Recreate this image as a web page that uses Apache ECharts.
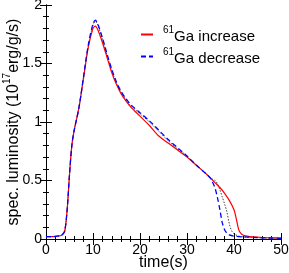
<!DOCTYPE html>
<html><head><meta charset="utf-8">
<script src="https://cdn.jsdelivr.net/npm/echarts@6/dist/echarts.min.js"></script>
<style>html,body{margin:0;padding:0;background:#fff}#c{width:289px;height:273px}</style>
</head><body><div id="c"></div>
<script>
// time (s) and luminosity values (10^17 erg/g/s)
const redT = [0,1,2,3,3.5,4,4.5,5,5.5,6,7,8,9,10,10.5,11,12,13,14,15,16,17,18,20,22,24,26,28,30,32,34,35,36,37,38,39,40,40.5,41,41.5,42,43,44,46,48,50];
const redV = [0.02,0.02,0.022,0.028,0.038,0.07,0.25,0.55,0.8,0.93,1.12,1.38,1.64,1.8,1.82,1.79,1.68,1.55,1.42,1.32,1.24,1.18,1.13,1.05,0.97,0.88,0.82,0.76,0.7,0.63,0.56,0.52,0.48,0.44,0.39,0.33,0.25,0.17,0.08,0.045,0.032,0.022,0.018,0.013,0.01,0.008];
const blueT = [0,1,2,3,3.5,4,4.5,5,5.5,6,7,8,9,10,10.5,11,12,13,14,15,16,17,18,20,22,24,26,28,30,32,34,35,35.5,36,36.5,37,37.5,38,38.5,39,40,42,44,46,48,50];
const blueV = [0.02,0.02,0.022,0.028,0.038,0.07,0.25,0.55,0.8,0.93,1.12,1.39,1.66,1.84,1.87,1.84,1.72,1.58,1.45,1.34,1.26,1.2,1.15,1.08,1.01,0.93,0.85,0.78,0.71,0.63,0.56,0.52,0.48,0.43,0.35,0.25,0.14,0.08,0.05,0.035,0.025,0.018,0.014,0.01,0.008,0.006];
const grayT = [0,1,2,3,3.5,4,4.5,5,5.5,6,7,8,9,10,10.5,11,12,13,14,15,16,17,18,20,22,24,26,28,30,32,34,35,36,36.5,37,37.5,38,38.5,39,39.5,40,41,42,44,46,48,50];
const grayV = [0.02,0.02,0.022,0.028,0.038,0.07,0.25,0.55,0.8,0.93,1.12,1.39,1.65,1.83,1.86,1.83,1.71,1.57,1.44,1.33,1.25,1.19,1.14,1.07,1.0,0.92,0.84,0.77,0.71,0.63,0.56,0.52,0.5,0.47,0.42,0.36,0.3,0.23,0.13,0.07,0.045,0.025,0.018,0.013,0.01,0.008,0.006];
const xTicks = [0,10,20,30,40,50];
const yTicks = [0,0.5,1,1.5,2];
const seriesNames = ['61Ga increase','61Ga decrease'];

const zip = (t,v) => t.map((x,i)=>[x,v[i]]);
const font = 'Liberation Sans, Arial, sans-serif';
const chart = echarts.init(document.getElementById('c'));
const axCommon = {
  axisLine:{show:true,lineStyle:{color:'#000',width:1}},
  axisTick:{show:true,inside:true,length:6,lineStyle:{color:'#000'}},
  minorTick:{show:true,splitNumber:5,length:3,lineStyle:{color:'#000'}},
  splitLine:{show:false}
};
const richSup = {
  t:{fontSize:16,fontFamily:font,color:'#000',lineHeight:20,verticalAlign:'bottom'},
  sup:{fontSize:10,fontFamily:font,color:'#000',lineHeight:10,verticalAlign:'top'}
};
const richLegend = {
  t:{fontSize:15,fontFamily:font,color:'#000',lineHeight:19,verticalAlign:'bottom'},
  sup:{fontSize:10,fontFamily:font,color:'#000',lineHeight:10,verticalAlign:'top',padding:[0,0,0,5]}
};
chart.setOption({
  animation:false,
  backgroundColor:'#fff',
  grid:{left:46,right:8,top:5,bottom:34,containLabel:false,outerBoundsMode:'none'},
  legend:{
    data:seriesNames, orient:'vertical', left:135, top:20, itemWidth:12, itemHeight:10, itemGap:3,
    itemStyle:{color:'transparent',borderWidth:0,opacity:0},
    formatter: n => '{sup|61}{t|' + n.slice(2) + '}',
    textStyle:{fontFamily:font, color:'#000', rich:richLegend}
  },
  xAxis:[
    Object.assign({type:'value',min:0,max:50,interval:10,position:'bottom',
      name:'time(s)',nameLocation:'middle',nameGap:16,nameMoveOverlap:false,
      nameTextStyle:{fontFamily:font,fontSize:16,color:'#000'},
      axisLabel:{fontFamily:font,fontSize:14,color:'#000',margin:4,
        formatter:v=>xTicks.includes(v)?String(v):''}},axCommon),
    Object.assign({type:'value',min:0,max:50,interval:10,position:'top',axisLabel:{show:false}},axCommon)
  ],
  yAxis:[
    Object.assign({type:'value',min:0,max:2,interval:0.5,position:'left',
      name:'{t|spec. luminosity (10}{sup|17}{t|erg/g/s)}',nameLocation:'middle',nameGap:24,nameRotate:90,nameMoveOverlap:false,
      nameTextStyle:{fontFamily:font,fontSize:16,color:'#000',rich:richSup},
      axisLabel:{fontFamily:font,fontSize:14,color:'#000',margin:4,
        formatter:v=>yTicks.includes(v)?String(v):''}},axCommon),
    Object.assign({type:'value',min:0,max:2,interval:0.5,position:'right',axisLabel:{show:false}},axCommon)
  ],
  series:[
    {name:'gray',type:'line',data:zip(grayT,grayV),smooth:0.3,symbol:'none',
      lineStyle:{color:'#444',width:1,type:[1.5,1.5]},z:1},
    {name:seriesNames[0],type:'line',data:zip(redT,redV),smooth:0.3,symbol:'none',
      lineStyle:{color:'#ff0000',width:1.2},itemStyle:{color:'#ff0000'},z:2},
    {name:seriesNames[1],type:'line',data:zip(blueT,blueV),smooth:0.3,symbol:'none',
      lineStyle:{color:'#0000ff',width:1.3,type:[5,3]},itemStyle:{color:'#0000ff'},z:3}
  ]
});
</script></body></html>
